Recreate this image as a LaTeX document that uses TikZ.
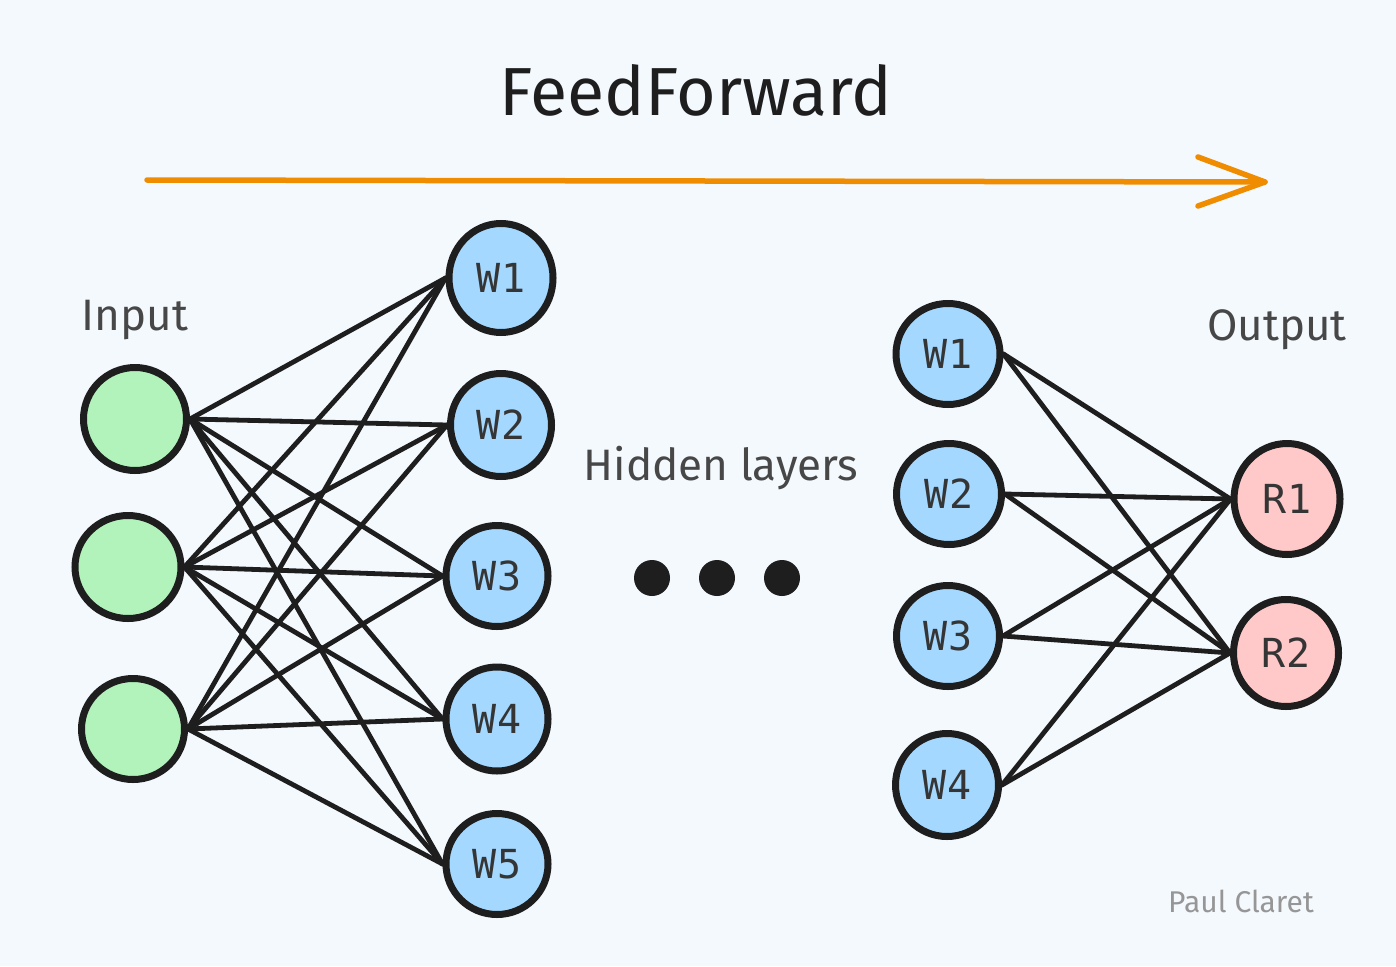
\documentclass[tikz,border=0pt]{standalone}
\usepackage{fontspec}
\setmainfont{Fira Sans}
\newfontfamily\labelfont{DejaVu Sans Mono}
\usetikzlibrary{shapes.geometric}
\definecolor{bgc}{HTML}{F4F9FE}
\definecolor{stroke}{HTML}{1E1E1E}
\definecolor{greenf}{HTML}{B2F2BB}
\definecolor{bluef}{HTML}{A5D8FF}
\definecolor{pinkf}{HTML}{FFC9C9}
\definecolor{arrowc}{HTML}{F08C00}
\definecolor{txtgray}{HTML}{474747}
\definecolor{signgray}{HTML}{969696}
\tikzset{
  neuron/.style={ellipse, draw=stroke, line width=7pt, inner sep=0pt,
    font=\labelfont\fontsize{40}{40}\selectfont, text=stroke!90},
  inp/.style={neuron, fill=greenf},
  hid/.style={neuron, fill=bluef},
  outn/.style={neuron, fill=pinkf},
  link/.style={draw=stroke, line width=4.8pt, line cap=round},
  dotn/.style={circle, fill=stroke, inner sep=0pt, minimum size=36pt},
  lbl/.style={anchor=base, text=txtgray, font=\fontsize{44}{44}\selectfont},
}
\begin{document}
\begin{tikzpicture}[x=1pt,y=-1pt]
\fill[bgc] (0,0) rectangle (1396,966);
\useasboundingbox (0,0) rectangle (1396,966);

% title and arrow
\node[anchor=base, text=stroke, font=\fontsize{68}{68}\selectfont] (title) at (696,115) {FeedForward};
\coordinate (as) at (147,180);
\coordinate (ae) at (1265,182);
\coordinate (ab1) at (1198,157);
\coordinate (ab2) at (1198,206);
\draw[arrowc, line width=5.5pt, line cap=round, line join=round] (as) -- (ae);
\draw[arrowc, line width=5.5pt, line cap=round, line join=round] (ab1) -- (ae) -- (ab2);

% labels
\node[lbl] (linput) at (135,330) {Input};
\node[lbl] (lhidden) at (721,480) {Hidden layers};
\node[lbl] (loutput) at (1277,340) {Output};
\node[anchor=base, text=signgray, font=\fontsize{30}{30}\selectfont] (sign) at (1241,912) {Paul Claret};

% input neurons
\node[inp, minimum width=103pt, minimum height=103pt] (i1) at (135,419) {};
\node[inp, minimum width=106pt, minimum height=103pt] (i2) at (128,567) {};
\node[inp, minimum width=103pt, minimum height=101pt] (i3) at (133,729) {};

% first hidden layer
\node[hid, minimum width=104pt, minimum height=109pt] (a1) at (501,278) {W1};
\node[hid, minimum width=101pt, minimum height=103pt] (a2) at (501,425) {W2};
\node[hid, minimum width=102pt, minimum height=101pt] (a3) at (497,576) {W3};
\node[hid, minimum width=102pt, minimum height=104pt] (a4) at (497,719) {W4};
\node[hid, minimum width=102pt, minimum height=101pt] (a5) at (497,864) {W5};

% last hidden layer
\node[hid, minimum width=104pt, minimum height=101pt] (b1) at (948,354) {W1};
\node[hid, minimum width=105pt, minimum height=101pt] (b2) at (949,494) {W2};
\node[hid, minimum width=103pt, minimum height=101pt] (b3) at (948,636) {W3};
\node[hid, minimum width=103pt, minimum height=103pt] (b4) at (947,785) {W4};

% output neurons
\node[outn, minimum width=106pt, minimum height=111pt] (r1) at (1287,499) {R1};
\node[outn, minimum width=105pt, minimum height=107pt] (r2) at (1286,653) {R2};

% dots
\node[dotn] (d1) at (652,578) {};
\node[dotn] (d2) at (717,578) {};
\node[dotn] (d3) at (782,578) {};

% connections input -> first hidden
\foreach \i in {i1,i2,i3}{
  \foreach \a in {a1,a2,a3,a4,a5}{
    \draw[link] (\i.east) -- (\a.west);
  }
}
% connections last hidden -> output
\foreach \b in {b1,b2,b3,b4}{
  \foreach \r in {r1,r2}{
    \draw[link] (\b.east) -- (\r.west);
  }
}
\end{tikzpicture}
\end{document}
